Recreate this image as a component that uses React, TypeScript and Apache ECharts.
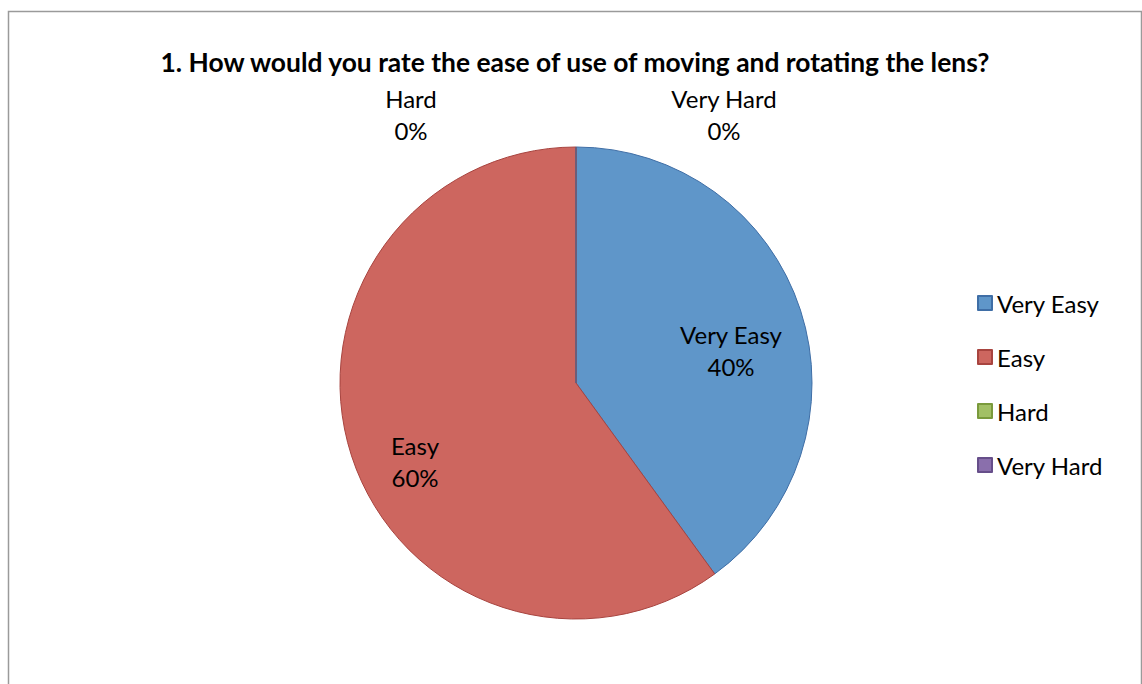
import React, { useEffect, useRef } from "react";
import * as echarts from "echarts";

const categories = ["Very Easy", "Easy", "Hard", "Very Hard"];
const values = [40, 60, 0, 0];
const fillColors = ["#5F96C9", "#CD665F", "#A2C065", "#8A6FAC"];
const borderColors = ["#3F6EA6", "#A8443F", "#7A9A3C", "#664E8A"];
const titleText = "1. How would you rate the ease of use of moving and rotating the lens?";

const labelPositions: [number, number][] = [
  [731, 350],
  [415, 461],
  [411, 114],
  [724, 114],
];

const FONT = "Lato, 'Open Sans', sans-serif";

export default function App() {
  const ref = useRef<HTMLDivElement>(null);
  useEffect(() => {
    if (!ref.current) return;
    const chart = echarts.init(ref.current, undefined, { renderer: "svg" });
    const total = values.reduce((a, b) => a + b, 0);
    chart.setOption({
      animation: false,
      backgroundColor: "#ffffff",
      title: {
        text: titleText,
        left: 570,
        textAlign: "center",
        top: 44,
        textStyle: { fontFamily: FONT, fontWeight: "bold", fontSize: 26.4, color: "#000" },
      },
      graphic: [
        {
          type: "polyline",
          shape: { points: [[8.5, 700], [8.5, 11.5], [1141.5, 11.5], [1141.5, 700]] },
          style: { stroke: "#9a9a9a", lineWidth: 1.5, fill: "none" },
          silent: true,
        },
      ],
      legend: {
        orient: "vertical",
        left: 972,
        top: 286,
        itemWidth: 14,
        itemHeight: 14,
        itemGap: 30,
        icon: "rect",
        data: categories,
        textStyle: { fontFamily: FONT, fontSize: 24, lineHeight: 20, color: "#000" },
      },
      series: [
        {
          type: "pie",
          center: [576, 383],
          radius: 236,
          startAngle: 90,
          clockwise: true,
          avoidLabelOverlap: false,
          stillShowZeroSum: true,
          minShowLabelAngle: 0,
          data: categories.map((name, i) => ({
            name,
            value: values[i],
            itemStyle: { color: fillColors[i], borderColor: borderColors[i], borderWidth: 1 },
          })),
          label: {
            show: true,
            position: "inside",
            formatter: (p: any) => `${p.name}\n${Math.round((p.value / total) * 100)}%`,
            fontFamily: FONT,
            fontSize: 24,
            lineHeight: 32,
            color: "#000",
            align: "center",
          },
          labelLine: { show: false },
          labelLayout: (params: any) => {
            const pos = labelPositions[params.dataIndex];
            return { x: pos[0], y: pos[1], align: "center", verticalAlign: "middle" };
          },
          emphasis: { disabled: true },
        },
      ],
    });
    return () => chart.dispose();
  }, []);
  return (
    <div
      ref={ref}
      style={{ position: "fixed", left: 0, top: 0, width: 1142, height: 684 }}
    />
  );
}
